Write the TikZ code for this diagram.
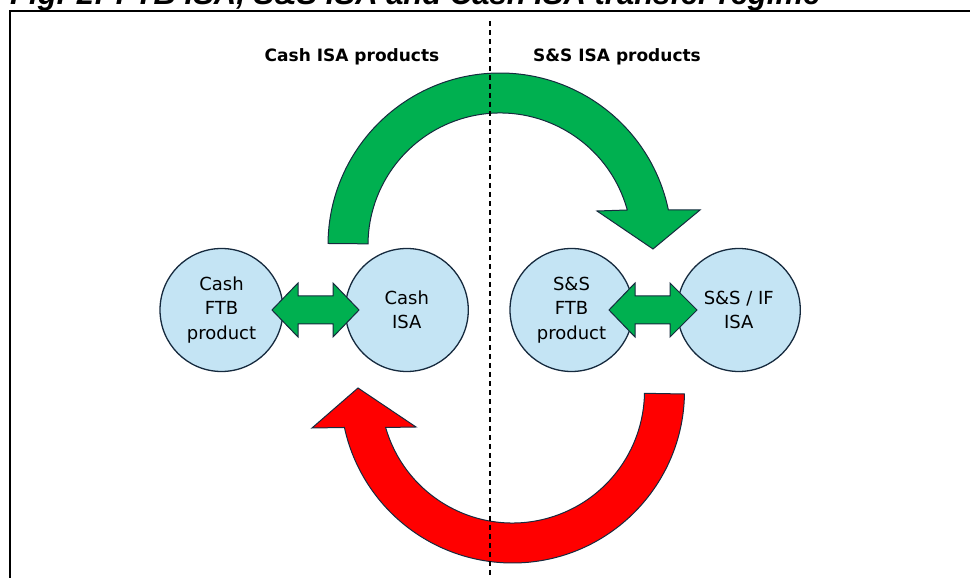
\documentclass[tikz,border=0pt]{standalone}
\usepackage{fontspec}
\setmainfont{DejaVu Sans}
\newfontfamily\titlefont{Liberation Sans}
\usepackage{tikz}
\usetikzlibrary{positioning,calc}
\definecolor{isablue}{RGB}{196,228,244}
\definecolor{isaline}{RGB}{22,42,62}
\definecolor{isagreen}{RGB}{0,176,80}
\definecolor{isared}{RGB}{255,0,0}

\begin{document}
\begin{tikzpicture}[x=1pt,y=1pt,
  isacircle/.style={circle,draw=isaline,fill=isablue,line width=1.3pt,minimum size=123pt,inner sep=0pt,align=center,font=\fontsize{18}{24.5}\selectfont},
  header/.style={font=\fontsize{17}{20}\selectfont\bfseries},
  blockarrow/.style={draw=isaline,line width=1pt,line join=miter}]
\useasboundingbox (0,0) rectangle (970,578);

% title, cut off at the top
\node[anchor=base west,inner sep=0pt,font=\titlefont\fontsize{31}{36}\selectfont\bfseries\itshape] (title) at (10,573) {Fig. 2: FTB ISA, S\&S ISA and Cash ISA transfer regime};
\draw [black,line width=2pt] (10,-10) rectangle (990,567);

\node[header] (cashhead) at (352,521) {Cash ISA products};
\node[header] (sshead) at (617,521) {S\&S ISA products};

% the four products
\node[isacircle] (cashftb) at (221.5,268) {Cash\\FTB\\product};
\node[isacircle,right=61pt of cashftb] (cashisa) {Cash\\ISA};
\node[isacircle] (ssftb) at (571.5,268) {S\&S\\FTB\\product};
\node[isacircle,right=43pt of ssftb] (ssisa) {S\&S / IF\\ISA};

\filldraw [blockarrow,fill=isagreen] (272,268)--(298,295)--(298,282)--(333,282)--(333,295)--(359,268)--(333,241)--(333,254)--(298,254)--(298,241)--cycle;
\filldraw [blockarrow,fill=isagreen] (609,268)--(635,295)--(635,282)--(670,282)--(670,295)--(697,268)--(670,241)--(670,254)--(635,254)--(635,241)--cycle;

% transfers across
\coordinate (greenctr) at (500,333);
\coordinate (redctr) at (512.5,187);
\filldraw [blockarrow,fill=isagreen] ($(greenctr)+(179.5:172pt)$) arc[start angle=179.5,end angle=11.74,radius=172pt]--(700,368)--(653,329)--(597,367)--($(greenctr)+(15.38:132pt)$) arc[start angle=15.38,end angle=179.5,radius=132pt]--cycle;
\filldraw [blockarrow,fill=isared] ($(redctr)+(-1:172pt)$) arc[start angle=-1,end angle=-167.75,radius=172pt]--(312,150)--(358,190)--(416,151)--($(redctr)+(-163.95:132pt)$) arc[start angle=-163.95,end angle=-1,radius=132pt]--cycle;

\draw [black,line width=1.3pt,dash pattern=on 5pt off 4pt] (490,557)--(490,-5);
\end{tikzpicture}
\end{document}
